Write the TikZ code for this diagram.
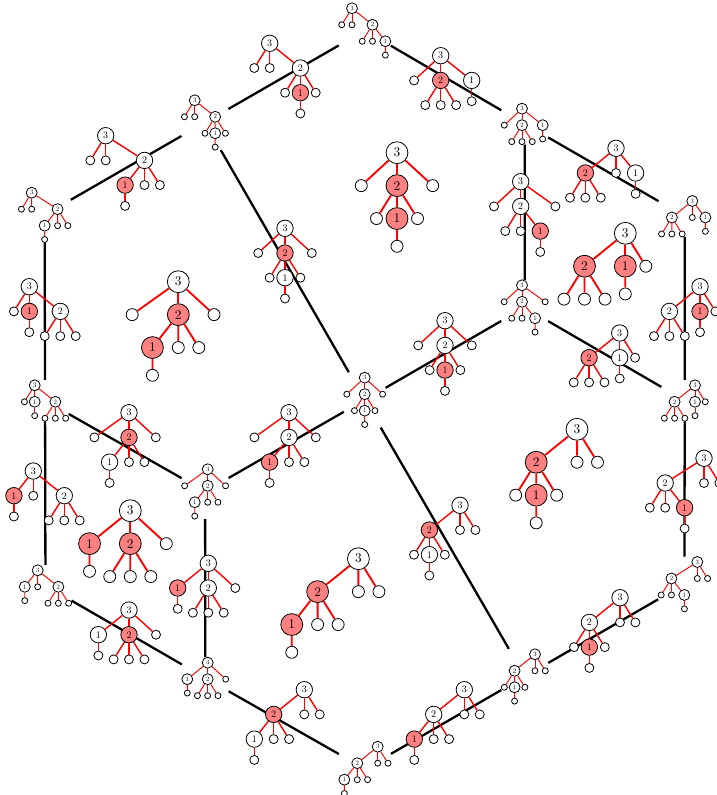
\documentclass[tikz,border=0pt]{standalone}
\usepackage{tikz}
\usetikzlibrary{backgrounds}
\definecolor{hot}{RGB}{255,128,128}
\tikzset{
  lab/.style={circle,draw,fill=white,transform shape,minimum size=16.4pt,inner sep=0pt,line width=0.8pt},
  leaf/.style={circle,draw,fill=white,transform shape,minimum size=9pt,inner sep=0pt,line width=0.8pt},
  twig/.style={red,line width=1.4pt*\ts},
  ridge/.style={black,line width=2.3pt}
}
% x of 2, x of 1, level of 1, leaves of 3, leaves of 2
\newcommand{\setshape}[5]{\def\xb{#1}\def\xc{#2}\def\lc{#3}\def\leavesr{#4}\def\leavesb{#5}}
\def\shLLa{\setshape{38.8}{19.4}{2}{-15.4,0}{38.8,54.2}}
\def\shLLb{\setshape{30.7}{30.7}{2}{-15.4,0}{15.4,46}}
\def\shLLc{\setshape{30.7}{50}{2}{-15.4,0}{15.4,30.7}}
\def\shLTo{\setshape{0}{31}{1}{-26.6}{-15.4,0,15.4}}
\def\shTLo{\setshape{-30.6}{19.6}{1}{0}{-46,-30.6,-15.2}}
\def\shLoT{\setshape{31}{0}{1}{-15.4}{15.4,31,46.4}}
\def\shMa{\setshape{0}{-19.4}{2}{-34.6,26.8}{0,15.4}}
\def\shMb{\setshape{0}{0}{2}{-26.8,26.8}{-15.4,15.4}}
\def\shMc{\setshape{0}{19.6}{2}{-26.7,34.7}{-15.4,0}}
\def\shToL{\setshape{-30.6}{0}{1}{15.4}{-46,-30.6,-15.2}}
\def\shoLT{\setshape{31}{-19.4}{1}{0}{15.4,31,46.4}}
\def\shoTL{\setshape{0}{-30.6}{1}{27}{-15.4,0,15.4}}
\def\shRa{\setshape{-30.6}{-50}{2}{0,15.4}{-30.6,-15.2}}
\def\shRb{\setshape{-30.6}{-30.6}{2}{0,15.4}{-46,-15.2}}
\def\shRc{\setshape{-38.8}{-19.4}{2}{0,15.4}{-54.2,-38.8}}
% name, x, y, size, fill of 2, fill of 1, shape
\newcommand{\treeat}[7]{
  #7\def\ts{#4}
  \begin{scope}[shift={(#2,#3)},scale=#4,local bounding box=#1]
    \node[lab] (#1r) at (0,0) {3};
    \node[lab,fill=#5] (#1b) at (\xb,24.7) {2};
    \node[lab,fill=#6] (#1c) at (\xc,\lc*24.7) {1};
    \node[leaf] (#1d) at (\xc,\lc*24.7+20.8) {};
    \draw[twig] (#1r) -- (#1b);
    \draw[twig] (#1c) -- (#1d);
    \ifnum\lc=1 \draw[twig] (#1r) -- (#1c); \else \draw[twig] (#1b) -- (#1c); \fi
    \foreach \q [count=\i] in \leavesr {
      \node[leaf] (#1r\i) at (\q,24.7) {};
      \draw[twig] (#1r) -- (#1r\i);
    }
    \foreach \q [count=\i] in \leavesb {
      \node[leaf] (#1b\i) at (\q,49.4) {};
      \draw[twig] (#1b) -- (#1b\i);
    }
  \end{scope}
}
\begin{document}
\begin{tikzpicture}[x=1pt,y=-1pt]
  % --- VERTICES ---
  \treeat{v1}{352}{8.3}{0.667}{white}{white}{\shLLc}
  \treeat{v2}{194.7}{100.3}{0.667}{white}{white}{\shLLb}
  \treeat{v3}{31.7}{192.7}{0.667}{white}{white}{\shLLa}
  \treeat{v4}{522}{108.7}{0.667}{white}{white}{\shLTo}
  \treeat{v5}{692.3}{201}{0.667}{white}{white}{\shTLo}
  \treeat{v6}{34.7}{385.3}{0.667}{white}{white}{\shLoT}
  \treeat{v7}{207.7}{469.3}{0.667}{white}{white}{\shMa}
  \treeat{v8}{364.7}{377.7}{0.667}{white}{white}{\shMb}
  \treeat{v9}{522}{285.3}{0.667}{white}{white}{\shMc}
  \treeat{v10}{695}{385.3}{0.667}{white}{white}{\shToL}
  \treeat{v11}{37.7}{570.3}{0.667}{white}{white}{\shoLT}
  \treeat{v12}{207.7}{662.7}{0.667}{white}{white}{\shoTL}
  \treeat{v13}{535}{654.3}{0.667}{white}{white}{\shRb}
  \treeat{v14}{697.3}{562}{0.667}{white}{white}{\shRc}
  \treeat{v15}{377.7}{746.7}{0.667}{white}{white}{\shRa}

  % --- EDGES ---
  \treeat{ea}{269.7}{43.3}{1}{white}{hot}{\shLLb}
  \treeat{eb}{105.7}{135.7}{1}{white}{hot}{\shLLa}
  \treeat{ec}{440.7}{55.7}{1}{hot}{white}{\shLTo}
  \treeat{ed}{616}{148.3}{1}{hot}{white}{\shTLo}
  \treeat{ee}{285}{228.3}{1}{hot}{white}{\shMb}
  \treeat{ef}{520.7}{181.7}{1}{white}{hot}{\shMc}
  \treeat{eg}{29.3}{286.7}{1}{white}{hot}{\shLoT}
  \treeat{eh}{700}{286.7}{1}{white}{hot}{\shToL}
  \treeat{ei}{445}{320.7}{1}{white}{hot}{\shMb}
  \treeat{ej}{619.7}{333}{1}{hot}{white}{\shToL}
  \treeat{ek}{129}{412.7}{1}{hot}{white}{\shMa}
  \treeat{el}{289}{412.7}{1}{white}{hot}{\shMa}
  \treeat{em}{33.3}{471}{1}{white}{hot}{\shoLT}
  \treeat{en}{704}{458.3}{1}{white}{hot}{\shRc}
  \treeat{eo}{208.3}{563.3}{1}{white}{hot}{\shoTL}
  \treeat{ep}{129}{610}{1}{hot}{white}{\shoTL}
  \treeat{eq}{460}{505.3}{1}{hot}{white}{\shRb}
  \treeat{er}{304.3}{689.7}{1}{hot}{white}{\shRa}
  \treeat{es}{464.3}{689.7}{1}{white}{hot}{\shRa}
  \treeat{et}{620}{597.7}{1}{white}{hot}{\shRb}

  % --- FACES ---
  \treeat{fa}{178.3}{281.7}{1.333}{hot}{hot}{\shMa}
  \treeat{fb}{397}{152.7}{1.333}{hot}{hot}{\shMb}
  \treeat{fc}{625.3}{233.3}{1.333}{hot}{hot}{\shToL}
  \treeat{fd}{130.3}{510.7}{1.333}{hot}{hot}{\shoTL}
  \treeat{fe}{358.4}{558.7}{1.333}{hot}{hot}{\shRa}
  \treeat{ff}{577}{429.3}{1.333}{hot}{hot}{\shRb}

  % --- RIDGES ---
  \begin{pgfonlayer}{background}
    \foreach \a/\b in {v1/v2,v2/v3,v1/v4,v4/v5,v2/v8,v4/v9,v3/v6,v5/v10,v8/v9,v9/v10,
                       v6/v7,v7/v8,v6/v11,v10/v14,v7/v12,v11/v12,v8/v13,v12/v15,v15/v13,v13/v14}
      \draw[ridge] (\a) -- (\b);
  \end{pgfonlayer}

  \pgfresetboundingbox
  \useasboundingbox (0,0) rectangle (716,795);
\end{tikzpicture}
\end{document}
